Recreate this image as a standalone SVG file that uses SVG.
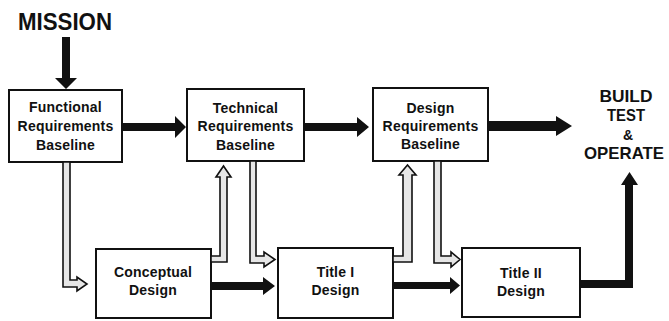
<svg xmlns="http://www.w3.org/2000/svg" width="669" height="321" viewBox="0 0 669 321">
  <style>
    .box { fill: #fff; stroke: #111; stroke-width: 2; }
    .lbl { font-family: "Liberation Sans", Arial, sans-serif; font-weight: bold; font-size: 14px; fill: #111; text-anchor: middle; letter-spacing: 0.2px; }
    .big { font-family: "Liberation Sans", Arial, sans-serif; font-weight: bold; fill: #111; text-anchor: middle; }
    .solid { fill: #111; stroke: none; }
    .hollow { fill: #e6e6e6; stroke: #111; stroke-width: 1.6; stroke-linejoin: miter; }
  </style>
  <rect width="669" height="321" fill="#fff"/>

  <!-- free-standing labels -->
  <g id="mission">
    <text class="big" x="65" y="30" font-size="23" textLength="94" lengthAdjust="spacingAndGlyphs">MISSION</text>
  </g>
  <g id="build-test-operate">
    <text class="big" x="626" y="102" font-size="17" textLength="53" lengthAdjust="spacingAndGlyphs">BUILD</text>
    <text class="big" x="626" y="121" font-size="17" textLength="38" lengthAdjust="spacingAndGlyphs">TEST</text>
    <text class="big" x="628" y="140" font-size="14">&amp;</text>
    <text class="big" x="624" y="159" font-size="17" textLength="80" lengthAdjust="spacingAndGlyphs">OPERATE</text>
  </g>

  <!-- nodes -->
  <g id="functional-baseline">
    <rect class="box" x="9" y="90" width="113" height="72"/>
    <text class="lbl" x="65.5" y="112">Functional</text>
    <text class="lbl" x="65.5" y="131">Requirements</text>
    <text class="lbl" x="65.5" y="150">Baseline</text>
  </g>
  <g id="technical-baseline">
    <rect class="box" x="187" y="89" width="117" height="72"/>
    <text class="lbl" x="245.5" y="113">Technical</text>
    <text class="lbl" x="245.5" y="131">Requirements</text>
    <text class="lbl" x="245.5" y="150">Baseline</text>
  </g>
  <g id="design-baseline">
    <rect class="box" x="373" y="88" width="115" height="73"/>
    <text class="lbl" x="430.5" y="113">Design</text>
    <text class="lbl" x="430.5" y="131">Requirements</text>
    <text class="lbl" x="430.5" y="149">Baseline</text>
  </g>
  <g id="conceptual-design">
    <rect class="box" x="96" y="249" width="115" height="69"/>
    <text class="lbl" x="153" y="277">Conceptual</text>
    <text class="lbl" x="153" y="295">Design</text>
  </g>
  <g id="title-1-design">
    <rect class="box" x="278" y="248" width="115" height="70"/>
    <text class="lbl" x="335.5" y="277">Title I</text>
    <text class="lbl" x="335.5" y="295">Design</text>
  </g>
  <g id="title-2-design">
    <rect class="box" x="462" y="248" width="118" height="69"/>
    <text class="lbl" x="521" y="278">Title II</text>
    <text class="lbl" x="521" y="296">Design</text>
  </g>

  <!-- connectors -->
  <g id="connectors">
    <!-- solid flow arrows -->
    <path class="solid" d="M62,37 H70 V78 H77 L66,89 L55,78 H62 Z"/>
    <path class="solid" d="M122,123 H175 V116 L186,127 L175,138 V131 H122 Z"/>
    <path class="solid" d="M304,123 H357 V117 L369,127 L357,137 V131 H304 Z"/>
    <path class="solid" d="M488,121 H556 V116 L572,126 L556,136 V131 H488 Z"/>
    <path class="solid" d="M211,282 H263 V277 L275,286 L263,295 V290 H211 Z"/>
    <path class="solid" d="M393,282 H450 V277 L460,285.5 L450,294 V289 H393 Z"/>
    <path class="solid" d="M580,280 H625 V185 H621 L629.5,172 L638,185 H633 V288 H580 Z"/>

    <!-- hollow hand-off arrows -->
    <path class="hollow" d="M63,162 H70 V280 H77 V277 L87,284 L77,291 V287 H63 Z"/>
    <path class="hollow" d="M211,256 H220 V177 H216 L223.5,166 L231,177 H227 V262 H211 Z"/>
    <path class="hollow" d="M250,161 H256 V256 H264 V252 L275,259.5 L264,267 V263 H250 Z"/>
    <path class="hollow" d="M393,256 H403 V175 H399 L407.5,165 L416,175 H412 V262 H393 Z"/>
    <path class="hollow" d="M434,161 H441 V256 H451 V252 L460,259.5 L451,267 V263 H434 Z"/>
  </g>
</svg>
